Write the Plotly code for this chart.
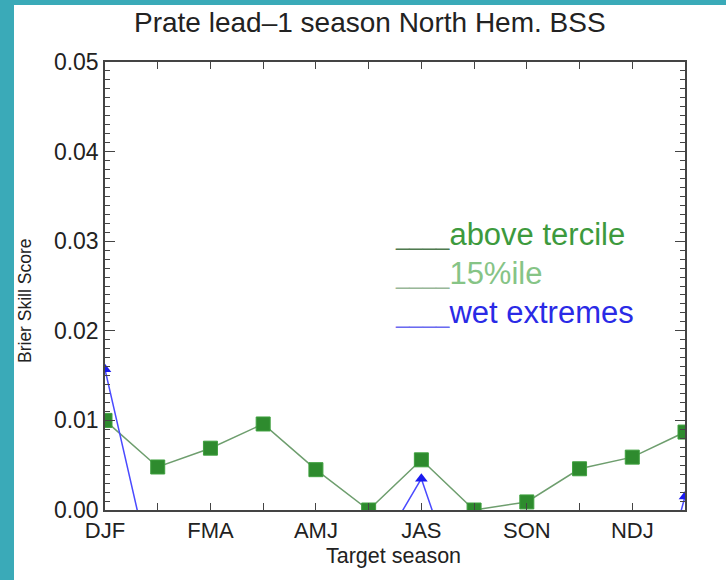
import plotly.graph_objects as go

# ---- data ----
season_idx = list(range(12))
tick_idx = [0, 2, 4, 6, 8, 10]
tick_labels = ["DJF", "FMA", "AMJ", "JAS", "SON", "NDJ"]
above_tercile = [0.0100, 0.0048, 0.0069, 0.0096, 0.0045, 0.0000,
                 0.0056, 0.0000, 0.0009, 0.0046, 0.0059, 0.0087]
wet_extremes = [0.0157, -0.0100, -0.0100, -0.0100, -0.0100, -0.0065,
                0.0035, -0.0137, -0.0100, -0.0100, -0.0200, 0.0015]
y_ticks = [0.00, 0.01, 0.02, 0.03, 0.04, 0.05]

W, H = 726, 580
L, R, T, B = 105, 41, 62, 70
pw, ph = W - L - R, H - T - B

def px(x):
    return (x - L) / pw

def py(y):
    return (H - B - y) / ph

FONT = "Liberation Sans, Arial, sans-serif"

fig = go.Figure()
fig.add_trace(go.Scatter(
    x=season_idx, y=above_tercile, mode="lines+markers",
    line=dict(color="#6e9e6e", width=1.5),
    marker=dict(symbol="square", size=14, color="#2e8b2e",
                line=dict(color="#3fa03f", width=1)),
    showlegend=False))
fig.add_trace(go.Scatter(
    x=season_idx, y=wet_extremes, mode="lines+markers",
    line=dict(color="#4a4aff", width=1.5),
    marker=dict(symbol="triangle-up", size=11, color="#1a1aee"),
    showlegend=False))

axis_col = "#444444"
fig.update_xaxes(
    range=[0, 11], tickmode="array", tickvals=tick_idx, ticktext=tick_labels,
    ticks="inside", ticklen=7, tickwidth=1.2, tickcolor=axis_col,
    minor=dict(dtick=1, ticks="inside", ticklen=7, tickwidth=1.2, tickcolor=axis_col),
    showline=True, linecolor=axis_col, linewidth=1.5, mirror="ticks",
    showgrid=False, zeroline=False,
    tickfont=dict(family=FONT, size=22, color="#222"),
)
fig.update_yaxes(
    range=[0, 0.05], tickmode="array", tickvals=y_ticks,
    ticktext=["%.2f" % v for v in y_ticks],
    ticks="inside", ticklen=10, tickwidth=1.2, tickcolor=axis_col,
    minor=dict(dtick=0.001, ticks="inside", ticklen=5, tickwidth=1, tickcolor=axis_col),
    showline=True, linecolor=axis_col, linewidth=1.5, mirror="ticks",
    showgrid=False, zeroline=False,
    tickfont=dict(family=FONT, size=23, color="#222"),
)

annotations = [
    dict(text="Prate lead\u20131 season North Hem. BSS", x=px(370), y=py(22),
         xref="paper", yref="paper", xanchor="center", yanchor="middle",
         showarrow=False, font=dict(family=FONT, size=28, color="#222")),
    dict(text="Brier Skill Score", x=px(25), y=py(301), textangle=-90,
         xref="paper", yref="paper", xanchor="center", yanchor="middle",
         showarrow=False, font=dict(family=FONT, size=17.5, color="#222")),
    dict(text="Target season", x=px(393), y=py(556),
         xref="paper", yref="paper", xanchor="center", yanchor="middle",
         showarrow=False, font=dict(family=FONT, size=21.5, color="#222")),
]
legend_rows = [
    ("above tercile", "#4f7a4f", "#3d9a3d", 234),
    ("15%ile", "#98b898", "#86c486", 273),
    ("wet extremes", "#6a6af0", "#2a2ae6", 312),
]
for label, ucol, tcol, yc in legend_rows:
    annotations.append(dict(
        text=f"<span style='color:{ucol};font-size:24px'>____</span>{label}",
        x=px(393), y=py(yc), xref="paper", yref="paper",
        xanchor="left", yanchor="middle", showarrow=False,
        font=dict(family=FONT, size=31, color=tcol)))

fig.update_layout(
    width=W, height=H,
    margin=dict(l=L, r=R, t=T, b=B),
    paper_bgcolor="#3aaab8", plot_bgcolor="white",
    annotations=annotations,
    shapes=[dict(type="rect", xref="paper", yref="paper", layer="below",
                 x0=px(14), x1=px(W + 5), y0=py(H + 5), y1=py(5),
                 fillcolor="white", line=dict(width=0))],
)
fig.write_html("out.html")
